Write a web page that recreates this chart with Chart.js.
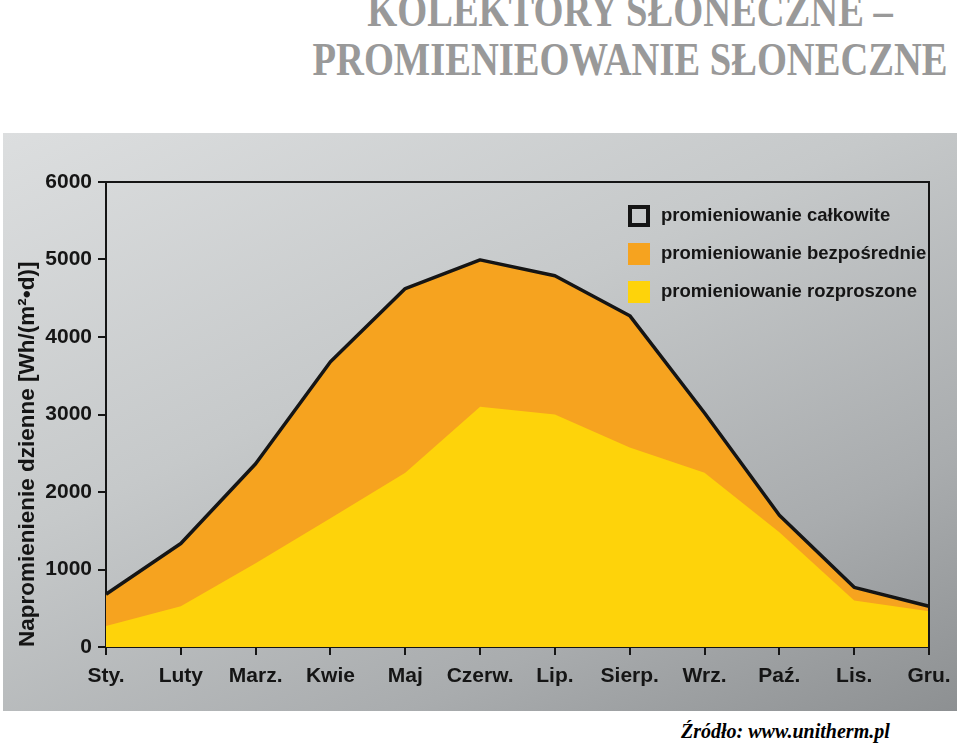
<!DOCTYPE html>
<html>
<head>
<meta charset="utf-8">
<script src="https://cdn.jsdelivr.net/npm/chart.js@4/dist/chart.umd.min.js"></script>
<style>
  body { margin: 0; width: 960px; height: 743px; background: #fff; position: relative; overflow: hidden; }
  .title {
    position: absolute; left: 630px; white-space: nowrap;
    font-family: "Liberation Serif", "Times New Roman", serif; font-weight: bold;
    font-size: 47px; line-height: 49px; color: #999999;
    transform: translateX(-50%) scaleX(0.82);
  }
  #panel {
    position: absolute; left: 3px; top: 133px; width: 954px; height: 578px;
    background: linear-gradient(155deg, #dcdedf 0%, #c6c9ca 40%, #a9acae 75%, #8d9092 100%);
  }
  #source {
    position: absolute; left: 681px; top: 719px; white-space: nowrap;
    font-family: "Liberation Serif", "Times New Roman", serif; font-weight: bold; font-style: italic;
    font-size: 20px; line-height: 24px; color: #000;
  }
</style>
</head>
<body>
<div class="title" style="top:-14px">KOLEKTORY SŁONECZNE –</div>
<div class="title" style="top:35px">PROMIENIEOWANIE SŁONECZNE</div>
<div id="panel"><canvas id="myChart"></canvas></div>
<div id="source">Źródło: www.unitherm.pl</div>

<script>
// miesiące
const months = ['Sty.', 'Luty', 'Marz.', 'Kwie', 'Maj', 'Czerw.', 'Lip.', 'Sierp.', 'Wrz.', 'Paź.', 'Lis.', 'Gru.'];
// promieniowanie całkowite [Wh/(m2 d)]
const totalRad = [680, 1335, 2365, 3680, 4625, 4995, 4790, 4275, 3020, 1700, 770, 525];
// promieniowanie rozproszone
const diffuseRad = [270, 525, 1080, 1660, 2250, 3100, 3000, 2575, 2250, 1480, 600, 460];
const yTicks = [0, 1000, 2000, 3000, 4000, 5000, 6000];
const legendLabels = ['promieniowanie całkowite', 'promieniowanie bezpośrednie', 'promieniowanie rozproszone'];

const ORANGE = '#f6a31f';
const YELLOW = '#fed30a';
const INK = '#151515';

// legenda w środku wykresu + ramka
const boxAndLegend = {
  id: 'boxAndLegend',
  afterDatasetsDraw(chart) {
    const ctx = chart.ctx;
    const a = chart.chartArea;
    ctx.save();
    ctx.strokeStyle = INK;
    ctx.lineWidth = 2;
    ctx.beginPath();
    ctx.moveTo(a.left, a.top);
    ctx.lineTo(a.right, a.top);
    ctx.lineTo(a.right, a.bottom);
    ctx.stroke();

    const x = a.left + 522;
    const rows = [a.top + 34, a.top + 72, a.top + 110];
    const fills = [null, ORANGE, YELLOW];
    ctx.font = 'bold 18.5px "Liberation Sans", Arial, sans-serif';
    ctx.textBaseline = 'middle';
    ctx.textAlign = 'left';
    legendLabels.forEach((label, i) => {
      const y = rows[i];
      if (fills[i]) {
        ctx.fillStyle = fills[i];
        ctx.fillRect(x, y - 11, 22, 22);
      } else {
        ctx.lineWidth = 4;
        ctx.strokeStyle = INK;
        ctx.strokeRect(x + 2, y - 9, 18, 18);
      }
      ctx.fillStyle = INK;
      ctx.fillText(label, x + 33, y);
    });
    ctx.restore();
  }
};

new Chart(document.getElementById('myChart'), {
  type: 'line',
  data: {
    labels: months,
    datasets: [
      {
        label: legendLabels[2],
        data: diffuseRad,
        fill: 'origin',
        backgroundColor: YELLOW,
        borderWidth: 0,
        pointRadius: 0,
        tension: 0,
      },
      {
        label: legendLabels[0],
        data: totalRad,
        fill: 'origin',
        backgroundColor: ORANGE,
        borderColor: INK,
        borderWidth: 3.5,
        borderJoinStyle: 'round',
        pointRadius: 0,
        tension: 0,
      },
    ],
  },
  options: {
    responsive: true,
    maintainAspectRatio: false,
    animation: false,
    events: [],
    layout: { padding: { left: 0, right: 28, top: 49, bottom: 0 } },
    plugins: {
      legend: { display: false },
      tooltip: { enabled: false },
      filler: { drawTime: 'beforeDatasetsDraw' },
    },
    scales: {
      x: {
        offset: false,
        afterFit: (scale) => {
          scale.height = 64;
          scale.paddingLeft = 0;
          scale.paddingRight = 0;
        },
        grid: { drawOnChartArea: false, drawTicks: true, tickLength: 8, color: INK, lineWidth: 2 },
        border: { display: true, color: INK, width: 2 },
        ticks: {
          color: INK,
          padding: 9,
          maxRotation: 0,
          autoSkip: false,
          font: { family: '"Liberation Sans", Arial, sans-serif', size: 21, weight: 'bold' },
        },
      },
      y: {
        min: 0,
        max: 6000,
        afterFit: (scale) => { scale.width = 103; },
        afterBuildTicks: (scale) => { scale.ticks = yTicks.map(v => ({ value: v })); },
        grid: { drawOnChartArea: false, drawTicks: true, tickLength: 8, color: INK, lineWidth: 2 },
        border: { display: true, color: INK, width: 2 },
        ticks: {
          color: INK,
          padding: 6,
          callback: (v) => String(v),
          font: { family: '"Liberation Sans", Arial, sans-serif', size: 21, weight: 'bold' },
        },
        title: {
          display: true,
          text: 'Napromienienie dzienne [Wh/(m²•d)]',
          align: 'start',
          color: INK,
          padding: { top: 11, bottom: 0 },
          font: { family: '"Liberation Sans", Arial, sans-serif', size: 22.5, weight: 'bold' },
        },
      },
    },
  },
  plugins: [boxAndLegend],
});
</script>
</body>
</html>
